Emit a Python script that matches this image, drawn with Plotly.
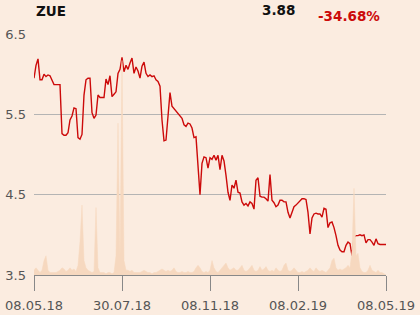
import plotly.graph_objects as go

price = [5.95, 6.11, 6.19, 5.93, 5.93, 6.00, 5.97, 5.99, 5.98, 5.93,
         5.87, 5.87, 5.87, 5.87, 5.26, 5.24, 5.24, 5.27, 5.43, 5.48,
         5.58, 5.57, 5.21, 5.19, 5.25, 5.74, 5.93, 5.95, 5.95, 5.52,
         5.45, 5.49, 5.74, 5.71, 5.71, 5.71, 5.94, 5.87, 5.98, 5.72,
         5.75, 5.78, 6.01, 6.06, 6.21, 6.03, 6.11, 6.06, 6.14, 6.20,
         6.01, 6.09, 6.04, 5.95, 6.10, 6.15, 6.01, 5.97, 5.99, 5.97,
         5.98, 5.93, 5.91, 5.85, 5.43, 5.17, 5.18, 5.49, 5.77, 5.60,
         5.57, 5.55, 5.52, 5.49, 5.45, 5.37, 5.35, 5.39, 5.38, 5.33,
         5.21, 5.22, 4.87, 4.50, 4.89, 4.97, 4.96, 4.83, 4.96, 4.94,
         4.99, 4.93, 4.99, 4.81, 4.99, 4.92, 4.74, 4.53, 4.43, 4.62,
         4.58, 4.68, 4.53, 4.52, 4.41, 4.37, 4.39, 4.36, 4.41, 4.39,
         4.32, 4.68, 4.71, 4.48, 4.47, 4.47, 4.45, 4.42, 4.75, 4.43,
         4.40, 4.35, 4.37, 4.43, 4.43, 4.41, 4.41, 4.28, 4.21, 4.28,
         4.35, 4.37, 4.40, 4.43, 4.45, 4.45, 4.44, 4.28, 4.01, 4.21,
         4.26, 4.27, 4.26, 4.26, 4.22, 4.33, 4.32, 4.09, 4.15, 4.16,
         4.09, 3.99, 3.87, 3.81, 3.79, 3.79, 3.87, 3.91, 3.89, 3.74,
         3.97, 3.99, 3.99, 4.00, 3.99, 4.00, 3.90, 3.94, 3.94, 3.91,
         3.87, 3.95, 3.89, 3.88, 3.88, 3.88, 3.88]

volume = [2, 3, 2, 1, 2, 6, 8, 2, 1, 1,
          1, 1, 1.5, 2, 3, 2.5, 1.5, 2, 3, 2,
          2.5, 1.5, 4, 14, 29, 6, 3, 2, 1.5, 1,
          1.5, 28, 3, 1, 1, 1, 0.5, 1, 1, 0.5,
          1, 8, 63, 8, 89, 6, 2, 2, 1.5, 2,
          1, 1, 1, 1, 1.5, 2, 1.5, 1, 1, 0.5,
          1, 1, 1.5, 2, 2.5, 2, 1.5, 2, 1.5, 2,
          3, 1.5, 1, 1, 1.5, 1, 1, 1.5, 1, 1,
          1.5, 3, 4, 3, 1.5, 1, 1.5, 1, 2, 6,
          3, 1.5, 1, 2, 3, 4, 5, 3, 2, 2.5,
          3, 2, 2, 3, 4, 2, 1.5, 2, 3, 4,
          2, 1.5, 2, 3.5, 2, 2.5, 3.5, 2, 1.5, 2,
          1.5, 3, 2, 1.5, 2, 4, 5, 2, 1.5, 2,
          3, 2, 1, 1, 1.5, 1, 1.5, 2, 3, 2,
          1.5, 3, 2, 1.5, 2, 1.5, 1, 2, 3, 6,
          7, 3, 2, 2.5, 2, 2.5, 3, 4, 3, 10,
          36, 8, 9, 3, 1.5, 1, 1, 2, 4, 2,
          1.5, 1, 2, 1, 1, 0.5, 0]

tick_labels = ["08.05.18", "30.07.18", "08.11.18", "08.02.19", "08.05.19"]
y_ticks = [3.5, 4.5, 5.5, 6.5]
symbol = "ZUE"
last_price = "3.88"
change = "-34.68%"

idx = list(range(len(price)))
n = len(price) - 1
tick_pos = [round(n * k / 4) for k in range(5)]

BG = "#fbece0"
RED = "#cc0a0a"

fig = go.Figure()
fig.add_trace(go.Scatter(
    x=idx, y=volume, yaxis="y2", mode="lines", fill="tozeroy",
    line=dict(color="#f6d8bf", width=0.5), fillcolor="#f6d8bf",
    hoverinfo="skip", showlegend=False))
fig.add_trace(go.Scatter(
    x=idx, y=price, mode="lines",
    line=dict(color=RED, width=1.4), showlegend=False))

fig.update_layout(
    width=420, height=315,
    margin=dict(l=34, r=34, t=34, b=40),
    paper_bgcolor=BG, plot_bgcolor=BG,
    font=dict(family="DejaVu Sans", size=13, color="#555555"),
    xaxis=dict(range=[0, n], tickmode="array", tickvals=tick_pos,
               ticktext=tick_labels, showgrid=False, zeroline=False,
               showline=True, linecolor="#888888", linewidth=1,
               ticks="outside", ticklen=15, tickcolor="#888888",
               ticklabelstandoff=3, automargin=False,
               tickfont=dict(size=13, color="#555555")),
    yaxis=dict(range=[3.5, 6.5], tickmode="array", tickvals=y_ticks,
               ticktext=[f"{v:.1f}" for v in y_ticks],
               showgrid=True, gridcolor="#b4b4b4", gridwidth=1,
               zeroline=False, showline=False, ticks="",
               ticklabelstandoff=7, automargin=False,
               tickfont=dict(size=13, color="#555555")),
    yaxis2=dict(range=[0, 100], overlaying="y", visible=False,
                automargin=False),
    annotations=[
        dict(text=f"<b>{symbol}</b>", xref="paper", yref="paper",
             x=0.0, y=1.095, xanchor="left", yanchor="middle",
             showarrow=False, font=dict(size=13.5, color="#111111")),
        dict(text=f"<b>{last_price}</b>", xref="paper", yref="paper",
             x=0.747, y=1.1, xanchor="right", yanchor="middle",
             showarrow=False, font=dict(size=13.5, color="#111111")),
        dict(text=f"<b>{change}</b>", xref="paper", yref="paper",
             x=0.989, y=1.075, xanchor="right", yanchor="middle",
             showarrow=False, font=dict(size=13.5, color=RED)),
    ],
)

fig.write_html("out.html")
